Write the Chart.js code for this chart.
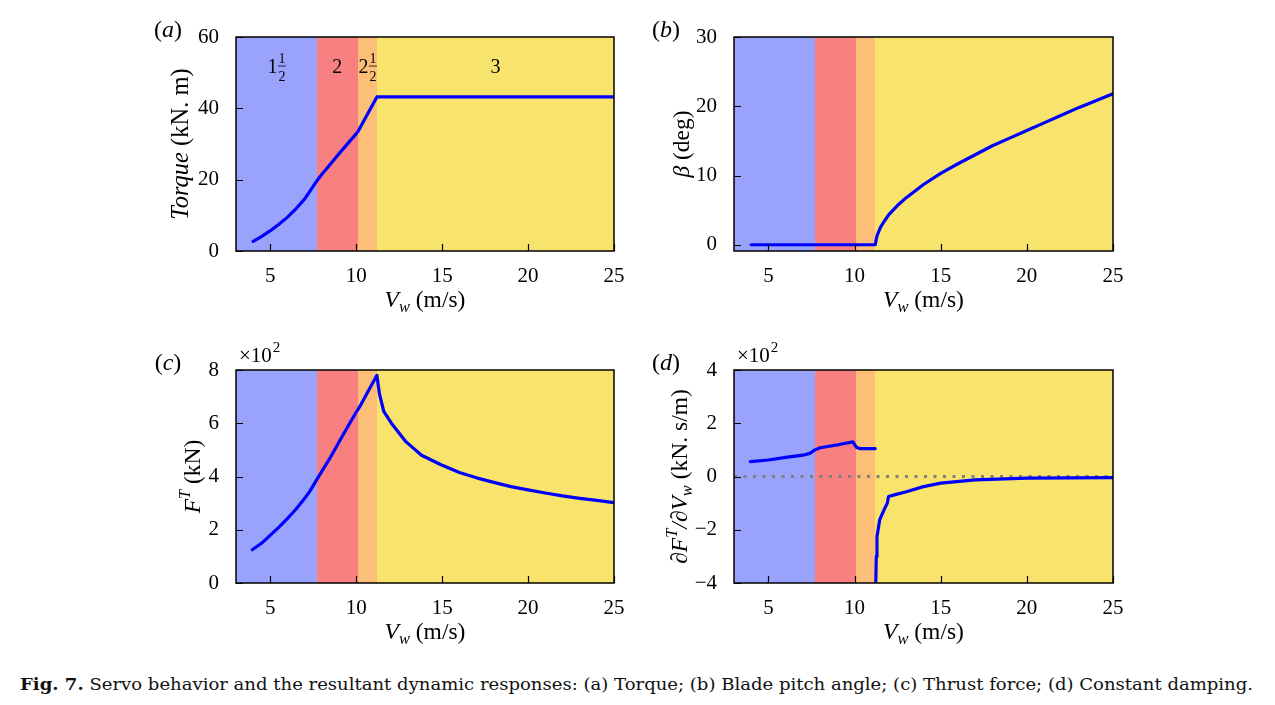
<!DOCTYPE html>
<html>
<head>
<meta charset="utf-8">
<script src="https://cdn.jsdelivr.net/npm/chart.js@4.4.1/dist/chart.umd.min.js"></script>
<style>
  body { margin: 0; background: #fff; width: 1275px; height: 705px; position: relative; overflow: hidden; }
  canvas { position: absolute; }
  #caption { position: absolute; left: 20px; top: 674px; font-family: "DejaVu Serif", serif; font-size: 17px;
             white-space: nowrap; display: inline-block; transform-origin: left top; color: #111; }
</style>
</head>
<body>
<canvas id="chartA" width="490" height="315" style="left:140px;top:15px"></canvas>
<canvas id="chartB" width="490" height="315" style="left:640px;top:15px"></canvas>
<canvas id="chartC" width="490" height="315" style="left:140px;top:335px"></canvas>
<canvas id="chartD" width="490" height="315" style="left:640px;top:335px"></canvas>
<div id="caption"><b>Fig. 7.</b> Servo behavior and the resultant dynamic responses: (a) Torque; (b) Blade pitch angle; (c) Thrust force; (d) Constant damping.</div>
<script>
// Wind speed axis (shared)
const xMin = 3;
const xMax = 25;
const xTicks = [5, 10, 15, 20, 25];

// Operating regions 1½, 2, 2½, 3
const regionEdges = [3, 7.7, 10.1, 11.2, 25];
const regionColors = ['#99a3fb', '#f88080', '#fdbf78', '#f8e46c'];
const regionNames = ['1', '2', '2', '3'];
const regionHalf = [true, false, true, false];
const regionLabelY = 52;

// (a) Torque (kN.m)
const vwTorque = [4, 4.5, 5, 5.5, 6, 6.5, 7, 7.5, 7.7, 8, 8.5, 9, 9.5, 10, 10.1, 11.2, 25];
const torque = [2.7, 4.1, 5.7, 7.5, 9.5, 11.9, 14.6, 18.2, 19.6, 21.5, 24.4, 27.3, 30.1, 32.9, 33.5, 43.2, 43.2];
const torqueTicks = [0, 20, 40, 60];

// (b) Blade pitch angle (deg)
const vwPitch = [4, 11.2, 11.3, 11.5, 11.75, 12, 12.5, 13, 14, 15, 16, 17, 18, 19, 20, 21, 22, 23, 24, 25];
const pitch = [0, 0, 1.3, 2.5, 3.5, 4.4, 5.7, 6.8, 8.7, 10.3, 11.7, 13.0, 14.3, 15.4, 16.5, 17.6, 18.7, 19.8, 20.8, 21.8];
const pitchTicks = [0, 10, 20, 30];

// (c) Thrust force (x10^2 kN)
const vwThrust = [3.95, 4.5, 5, 5.5, 6, 6.5, 7, 7.3, 7.7, 8.45, 9.2, 10, 10.2, 11.2, 11.35, 11.6, 12.1, 12.9, 13.8, 14.9, 16, 17, 18, 19, 20, 21, 22, 23, 24, 25];
const thrust = [1.25, 1.5, 1.8, 2.1, 2.43, 2.78, 3.18, 3.45, 3.88, 4.67, 5.53, 6.42, 6.62, 7.8, 7.1, 6.45, 5.95, 5.3, 4.8, 4.45, 4.15, 3.95, 3.78, 3.62, 3.5, 3.38, 3.27, 3.18, 3.1, 3.02];
const thrustTicks = [0, 2, 4, 6, 8];

// (d) Constant damping dF/dV (x10^2 kN.s/m), two branches
const vwDampLow = [3.95, 5, 6, 7, 7.4, 7.7, 8, 9.1, 9.9, 10.1, 10.3, 11.2];
const dampLow = [0.56, 0.62, 0.72, 0.8, 0.87, 1.0, 1.08, 1.2, 1.3, 1.1, 1.05, 1.05];
const vwDampHigh = [11.23, 11.26, 11.3, 11.46, 11.71, 11.9, 11.97, 12.3, 13, 14, 15, 17, 20, 25];
const dampHigh = [-4, -3.0, -2.25, -1.62, -1.25, -1.0, -0.75, -0.69, -0.57, -0.38, -0.25, -0.13, -0.06, -0.04];
const zeroX = [3, 25];
const zeroY = [0, 0];
const dampTicks = [-4, -2, 0, 2, 4];

const FONT = '"Liberation Serif", "Times New Roman", serif';
const TITLE_SIZE = 23.5;
Chart.defaults.color = '#000';
Chart.defaults.font.family = FONT;

const xTitle = [{ t: 'V', i: 1 }, { t: 'w', i: 1, sub: 1 }, { t: ' (m/s)' }];

function toPoints(xs, ys) {
    return xs.map((v, k) => ({ x: v, y: ys[k] }));
}

function setFont(ctx, size, italic) {
    ctx.font = (italic ? 'italic ' : '') + size + 'px ' + FONT;
}

function runsWidth(ctx, runs, size) {
    let w = 0;
    runs.forEach(r => {
        setFont(ctx, (r.sub || r.sup) ? size * 0.7 : size, r.i);
        w += ctx.measureText(r.t).width;
    });
    return w;
}

// draw mixed italic / sub / sup text centred on x, baseline y
function drawRuns(ctx, runs, x, y, size) {
    let cx = x - runsWidth(ctx, runs, size) / 2;
    runs.forEach(r => {
        const s = (r.sub || r.sup) ? size * 0.7 : size;
        setFont(ctx, s, r.i);
        const dy = r.sub ? size * 0.22 : (r.sup ? -size * 0.4 : 0);
        ctx.fillText(r.t, cx, y + dy);
        cx += ctx.measureText(r.t).width;
    });
}

function makeDecor(p) {
    return {
        id: 'decor' + p.tag,
        beforeDatasetsDraw(chart) {
            const { ctx, chartArea: a, scales: { x } } = chart;
            ctx.save();
            for (let i = 0; i < regionColors.length; i++) {
                const l = Math.round(x.getPixelForValue(regionEdges[i]));
                const r = Math.round(x.getPixelForValue(regionEdges[i + 1]));
                ctx.fillStyle = regionColors[i];
                ctx.fillRect(l, a.top, r - l, a.bottom - a.top);
            }
            ctx.restore();
        },
        afterDatasetsDraw(chart) {
            const { ctx, chartArea: a, scales: { x, y } } = chart;
            ctx.save();
            ctx.fillStyle = '#000';
            ctx.strokeStyle = '#000';
            ctx.textAlign = 'left';
            ctx.textBaseline = 'alphabetic';

            // region labels (panel a only)
            if (p.regionLabels) {
                const yb = y.getPixelForValue(regionLabelY) + 7;
                for (let i = 0; i < regionNames.length; i++) {
                    const cx = x.getPixelForValue((regionEdges[i] + regionEdges[i + 1]) / 2);
                    setFont(ctx, 20, false);
                    const ww = ctx.measureText(regionNames[i]).width;
                    if (!regionHalf[i]) {
                        ctx.fillText(regionNames[i], cx - ww / 2, yb);
                        continue;
                    }
                    setFont(ctx, 14, false);
                    const wf = ctx.measureText('1').width;
                    const x0 = cx - (ww + wf + 1) / 2;
                    setFont(ctx, 20, false);
                    ctx.fillText(regionNames[i], x0, yb);
                    setFont(ctx, 14, false);
                    const fx = x0 + ww + 1;
                    ctx.fillText('1', fx, yb - 10);
                    ctx.fillText('2', fx, yb + 8);
                    ctx.lineWidth = 0.8;
                    ctx.beginPath();
                    ctx.moveTo(fx - 0.5, yb - 6.5);
                    ctx.lineTo(fx + wf + 0.5, yb - 6.5);
                    ctx.stroke();
                }
            }

            // inward tick marks
            ctx.lineWidth = 1.2;
            ctx.beginPath();
            x.ticks.forEach(t => {
                const px = Math.round(x.getPixelForValue(t.value)) + 0.5;
                ctx.moveTo(px, a.bottom);
                ctx.lineTo(px, a.bottom - 7);
            });
            y.ticks.forEach(t => {
                const py = Math.round(y.getPixelForValue(t.value)) + 0.5;
                ctx.moveTo(a.left, py);
                ctx.lineTo(a.left + 7, py);
            });
            ctx.stroke();

            // frame
            ctx.lineWidth = 1.5;
            ctx.strokeRect(a.left, a.top, a.right - a.left, a.bottom - a.top);

            // x title
            drawRuns(ctx, xTitle, (a.left + a.right) / 2, a.bottom + 56, TITLE_SIZE);

            // y title (rotated)
            ctx.save();
            ctx.translate(a.left - p.yTitleOff, (a.top + a.bottom) / 2);
            ctx.rotate(-Math.PI / 2);
            drawRuns(ctx, p.yTitle, 0, 7.5, p.yTitleSize || TITLE_SIZE);
            ctx.restore();

            // panel tag (a), (b) ...
            drawRuns(ctx, [{ t: '(' }, { t: p.tag, i: 1 }, { t: ')' }], a.left - 68, a.top, 24);

            // exponent note
            if (p.exponent) {
                ctx.textAlign = 'left';
                setFont(ctx, 21, false);
                ctx.fillText('\u00d710', a.left + 3, a.top - 8);
                const w = ctx.measureText('\u00d710').width;
                setFont(ctx, 15, false);
                ctx.fillText('2', a.left + 3 + w + 1, a.top - 18);
            }
            ctx.restore();
        }
    };
}

function tickText(v) {
    return v < 0 ? '\u2212' + Math.abs(v) : String(v);
}

function makeChart(id, p) {
    const W = 490, H = 315;
    const canvas = document.getElementById(id);
    return new Chart(canvas.getContext('2d'), {
        type: 'line',
        data: { datasets: p.datasets },
        options: {
            responsive: false,
            animation: false,
            events: [],
            layout: { padding: { left: 0, top: p.pt - p.top, right: p.left + W - p.pr, bottom: 0 } },
            plugins: { legend: { display: false }, tooltip: { enabled: false } },
            elements: { point: { radius: 0 }, line: { tension: 0, borderCapStyle: 'round', borderJoinStyle: 'round' } },
            scales: {
                x: {
                    type: 'linear',
                    min: xMin,
                    max: xMax,
                    grid: { display: false },
                    border: { display: false },
                    ticks: { font: { size: 21 }, padding: 5, maxRotation: 0 },
                    afterBuildTicks: s => { s.ticks = xTicks.map(v => ({ value: v })); },
                    afterFit: s => { s.height = p.top + H - p.pb; }
                },
                y: {
                    type: 'linear',
                    min: p.yMin,
                    max: p.yMax,
                    grid: { display: false },
                    border: { display: false },
                    ticks: { font: { size: 21 }, padding: 9, callback: v => tickText(v) },
                    afterBuildTicks: s => { s.ticks = p.yTicks.map(v => ({ value: v })); },
                    afterFit: s => { s.width = p.pl - p.left; }
                }
            }
        },
        plugins: [makeDecor(p)]
    });
}

function blueLine(xs, ys) {
    return { data: toPoints(xs, ys), borderColor: '#0000ff', borderWidth: 3.2, fill: false };
}

makeChart('chartA', {
    tag: 'a', left: 140, top: 15, pl: 236, pr: 614, pt: 37, pb: 251,
    yMin: 0, yMax: 60, yTicks: torqueTicks, regionLabels: true, yTitleOff: 56, yTitleSize: 24.5,
    yTitle: [{ t: 'Torque', i: 1 }, { t: ' (kN. m)' }],
    datasets: [blueLine(vwTorque, torque)]
});

makeChart('chartB', {
    tag: 'b', left: 640, top: 15, pl: 734, pr: 1113, pt: 37, pb: 251,
    yMin: -0.9, yMax: 30, yTicks: pitchTicks, yTitleOff: 53,
    yTitle: [{ t: '\u03b2', i: 1 }, { t: ' (deg)' }],
    datasets: [blueLine(vwPitch, pitch)]
});

makeChart('chartC', {
    tag: 'c', left: 140, top: 335, pl: 236, pr: 614, pt: 370, pb: 583,
    yMin: 0, yMax: 8, yTicks: thrustTicks, yTitleOff: 44, exponent: true,
    yTitle: [{ t: 'F', i: 1 }, { t: 'T', i: 1, sup: 1 }, { t: ' (kN)' }],
    datasets: [blueLine(vwThrust, thrust)]
});

makeChart('chartD', {
    tag: 'd', left: 640, top: 335, pl: 734, pr: 1113, pt: 370, pb: 583,
    yMin: -4, yMax: 4, yTicks: dampTicks, yTitleOff: 55, exponent: true,
    yTitle: [{ t: '\u2202F', i: 1 }, { t: 'T', i: 1, sup: 1 }, { t: '/\u2202V', i: 1 }, { t: 'w', i: 1, sub: 1 }, { t: ' (kN. s/m)' }],
    datasets: [
        blueLine(vwDampLow, dampLow),
        blueLine(vwDampHigh, dampHigh),
        { data: toPoints(zeroX, zeroY), borderColor: '#808080', borderWidth: 3, borderDash: [3, 6.5], borderCapStyle: 'butt', fill: false }
    ]
});

// stretch caption to the reference width
const cap = document.getElementById('caption');
const capW = cap.getBoundingClientRect().width;
cap.style.transform = 'scaleX(' + (1233 / capW).toFixed(4) + ')';
</script>
</body>
</html>
